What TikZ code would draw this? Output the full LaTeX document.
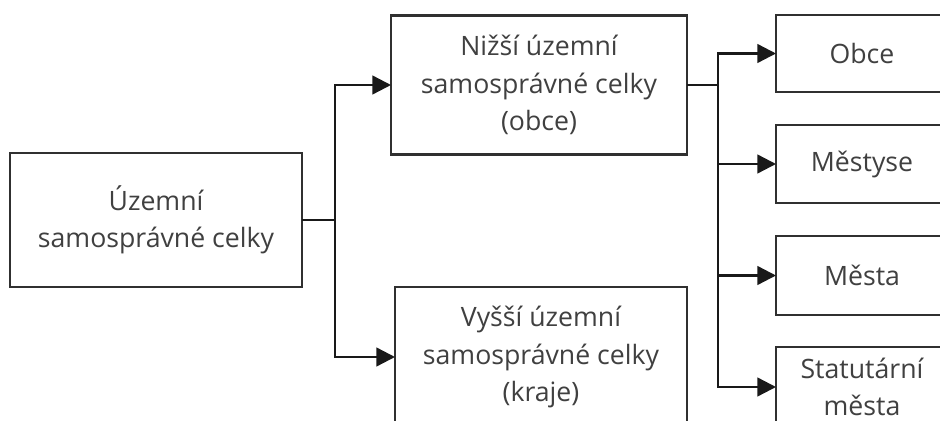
\documentclass[tikz,border=0pt]{standalone}
\usepackage{fontspec}
\setmainfont{Open Sans}
\usetikzlibrary{arrows.meta}
\definecolor{txt}{HTML}{404040}
\definecolor{edge}{HTML}{303030}
\tikzset{
  box/.style={draw=edge, line width=1.6pt, fill=white, inner sep=0pt, outer sep=0pt,
    align=center, text=txt, font=\fontsize{20}{28}\selectfont},
  conn/.style={draw=black!90, line width=1.8pt},
  arr/.style={conn, -{Triangle[length=14pt,width=14pt]}}
}
\begin{document}
\begin{tikzpicture}[x=0.75pt,y=-0.75pt]
\clip (0,0) rectangle (940,421);
\fill[white] (0,0) rectangle (940,421);
\node[box, minimum width=219pt, minimum height=100.5pt] (L) at (156,220) {Územní\\samosprávné celky};
\node[box, minimum width=222pt, minimum height=104.25pt] (N) at (539,85) {Nižší územní\\samosprávné celky\\(obce)};
\node[box, minimum width=219pt, minimum height=105pt] (V) at (541,357) {Vyšší územní\\samosprávné celky\\(kraje)};
\node[box, minimum width=129pt, minimum height=57.75pt] (O) at (862,53.5) {Obce};
\node[box, minimum width=129pt, minimum height=58.5pt] (M1) at (862,164) {Městyse};
\node[box, minimum width=129pt, minimum height=59.25pt] (M2) at (862,275.5) {Města};
\node[box, minimum width=129pt, minimum height=60pt] (S) at (862,387) {Statutární\\města};
\coordinate (j1) at (335,220);
\coordinate (j2) at (718,85);
\draw[conn] (L.east) -- (j1);
\draw[arr] (j1) |- (N.west);
\draw[arr] (j1) |- (V.west);
\draw[conn] (N.east) -- (j2);
\draw[arr] (j2) |- (O.west);
\draw[arr] (j2) |- (M1.west);
\draw[arr] (j2) |- (M2.west);
\draw[arr] (j2) |- (S.west);
\end{tikzpicture}
\end{document}
